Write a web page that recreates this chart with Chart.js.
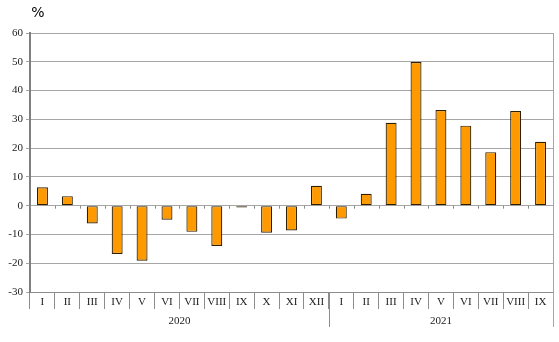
<!DOCTYPE html>
<html>
<head>
<meta charset="utf-8">
<script src="https://cdn.jsdelivr.net/npm/chart.js@4"></script>
<style>
  html, body { margin: 0; padding: 0; background: #fff; }
  #wrap { position: relative; width: 559px; height: 342px; }
</style>
</head>
<body>
<div id="wrap"><canvas id="chart" width="559" height="342"></canvas></div>
<script>
const months = ['I','II','III','IV','V','VI','VII','VIII','IX','X','XI','XII',
                'I','II','III','IV','V','VI','VII','VIII','IX'];
const years = ['2020', '2021'];
const yearLengths = [12, 9];
const values = [6.4, 3.3, -6.2, -16.8, -19.1, -4.9, -9.1, -14.0, -0.6, -9.4, -8.6, 6.9,
                -4.5, 4.1, 28.8, 49.9, 33.2, 27.8, 18.6, 32.9, 22.2];

const serif = '"Liberation Serif", "Times New Roman", serif';

const groupAxis = {
  id: 'groupAxis',
  afterDraw(chart) {
    const ctx = chart.ctx;
    const x = chart.scales.x;
    const y = chart.scales.y;
    const area = chart.chartArea;
    const half = (x.getPixelForValue(1) - x.getPixelForValue(0)) / 2;
    const zero = y.getPixelForValue(0);
    ctx.save();
    // unit label
    ctx.fillStyle = '#000';
    ctx.font = '14px "DejaVu Sans", sans-serif';
    ctx.textAlign = 'center';
    ctx.textBaseline = 'middle';
    ctx.fillText('%', 38, 13);
    // small ticks on the zero line
    ctx.strokeStyle = '#8c8c8c';
    ctx.lineWidth = 1;
    for (let i = 0; i <= months.length; i++) {
      const px = Math.round(x.getPixelForValue(i) - half) + 0.5;
      ctx.beginPath();
      ctx.moveTo(px, zero);
      ctx.lineTo(px, zero + 3);
      ctx.stroke();
    }
    // right border
    ctx.strokeStyle = '#a6a6a6';
    ctx.beginPath();
    ctx.moveTo(area.right + 0.5, area.top);
    ctx.lineTo(area.right + 0.5, 327);
    ctx.stroke();
    // year groups
    ctx.strokeStyle = '#8c8c8c';
    ctx.fillStyle = '#222';
    ctx.font = '11px ' + serif;
    let start = 0;
    years.forEach((yr, k) => {
      const end = start + yearLengths[k];
      const left = x.getPixelForValue(start) - half;
      const right = x.getPixelForValue(end - 1) + half;
      if (k > 0) {
        const px = Math.round(left) + 0.5;
        ctx.beginPath();
        ctx.moveTo(px, area.bottom);
        ctx.lineTo(px, 327);
        ctx.stroke();
      }
      ctx.fillText(yr, (left + right) / 2, 321);
      start = end;
    });
    ctx.restore();
  }
};

new Chart(document.getElementById('chart').getContext('2d'), {
  type: 'bar',
  data: {
    labels: months,
    datasets: [{
      data: values,
      backgroundColor: '#ff9900',
      borderColor: '#2e1f00',
      borderWidth: 1.2,
      borderSkipped: false,
      barPercentage: 0.44,
      categoryPercentage: 1
    }]
  },
  options: {
    responsive: false,
    animation: false,
    layout: { padding: { top: 33, right: 6, bottom: 15, left: 0 } },
    plugins: {
      legend: { display: false },
      tooltip: { enabled: false }
    },
    scales: {
      x: {
        offset: true,
        grid: {
          offset: true,
          drawOnChartArea: false,
          tickLength: 17,
          color: '#8c8c8c'
        },
        border: { display: true, color: '#8c8c8c' },
        ticks: {
          color: '#222',
          font: { family: serif, size: 11 },
          padding: -13,
          maxRotation: 0,
          autoSkip: false
        },
        afterFit: s => { s.height = 35; }
      },
      y: {
        min: -30,
        max: 60,
        ticks: {
          stepSize: 10,
          color: '#222',
          font: { family: serif, size: 11 },
          padding: 3
        },
        grid: { color: '#a6a6a6', tickLength: 4 },
        border: { display: true, color: '#7f7f7f', width: 2 },
        afterFit: s => { s.width = 30; }
      }
    }
  },
  plugins: [groupAxis]
});
</script>
</body>
</html>
